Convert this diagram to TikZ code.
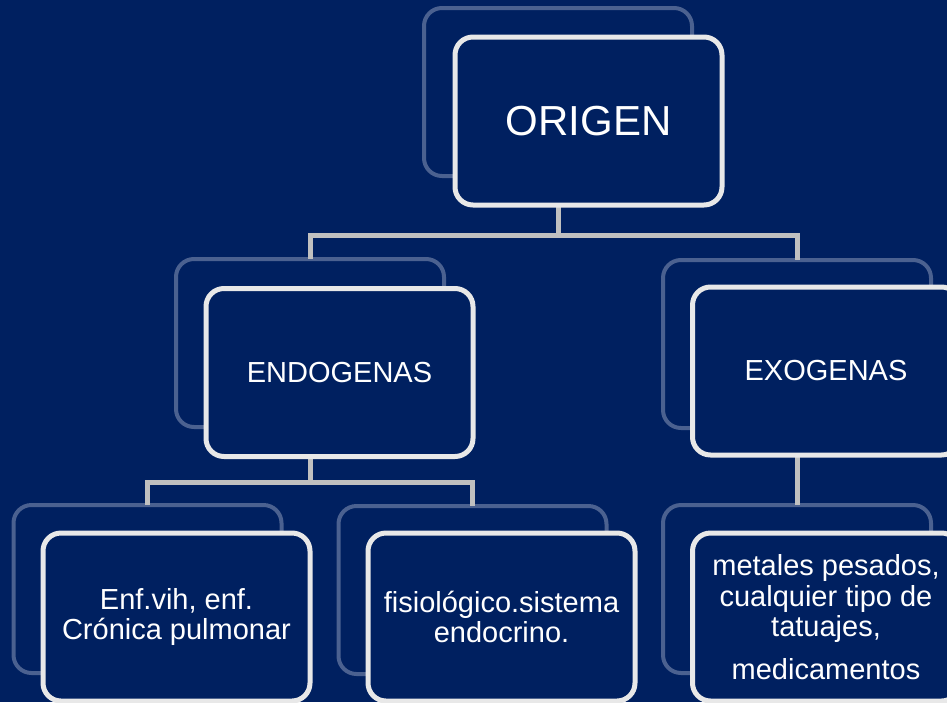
\documentclass[tikz,border=0pt]{standalone}
\usepackage{fontspec}
\setmainfont{Liberation Sans}
\definecolor{navy}{RGB}{0,32,96}
\definecolor{frontline}{RGB}{232,232,232}
\definecolor{backline}{RGB}{75,97,144}
\definecolor{conn}{RGB}{192,192,192}
\begin{document}
\begin{tikzpicture}[x=1pt,y=-1pt,
  backbox/.style={draw=backline, line width=4pt, rounded corners=18pt,
    minimum width=268pt, minimum height=168pt, inner sep=0pt, outer sep=0pt, fill=navy},
  frontbox/.style={draw=frontline, line width=5pt, rounded corners=18pt,
    minimum width=267pt, minimum height=168pt, inner sep=0pt, outer sep=0pt, fill=navy,
    text=white, align=center, font=\fontsize{29}{30.5}\selectfont},
  link/.style={draw=conn, line width=5pt}]
\useasboundingbox (0,0) rectangle (947,702);
\fill[navy] (0,0) rectangle (947,702);
\clip (0,0) rectangle (947,702);
% back boxes
\node[backbox] (rootB) at (558,92) {};
\node[backbox] (endoB) at (310,343) {};
\node[backbox] (exoB) at (797,344) {};
\node[backbox] (leafaB) at (147.5,589) {};
\node[backbox] (leafbB) at (472.5,590) {};
\node[backbox] (leafcB) at (797,589) {};
% bus coordinates
\coordinate (busA) at (0,235);
\coordinate (busB) at (0,482);
% connectors
\draw[link] (rootB.south) -- (rootB.south |- busA) -| (endoB.north);
\draw[link] (rootB.south |- busA) -| (exoB.north);
\draw[link] (endoB.south) -- (endoB.south |- busB) -| (leafaB.north);
\draw[link] (endoB.south |- busB) -| (leafbB.north);
\draw[link] (exoB.south) -- (leafcB.north);
% front boxes
\node[frontbox, font=\fontsize{42}{48}\selectfont] (root) at (588.5,121) {ORIGEN};
\node[frontbox] (endo) at (339.5,372.5) {ENDOGENAS};
\node[frontbox] (exo) at (826,371) {EXOGENAS};
\node[frontbox] (leafa) at (176.5,617) {Enf.vih, enf.\\Crónica pulmonar};
\node[frontbox] (leafb) at (501.5,617) {fisiológico.sistema\\endocrino.};
\node[frontbox] (leafc) at (826,617) {metales pesados,\\cualquier tipo de\\tatuajes,\\[12pt]medicamentos};
\end{tikzpicture}
\end{document}
